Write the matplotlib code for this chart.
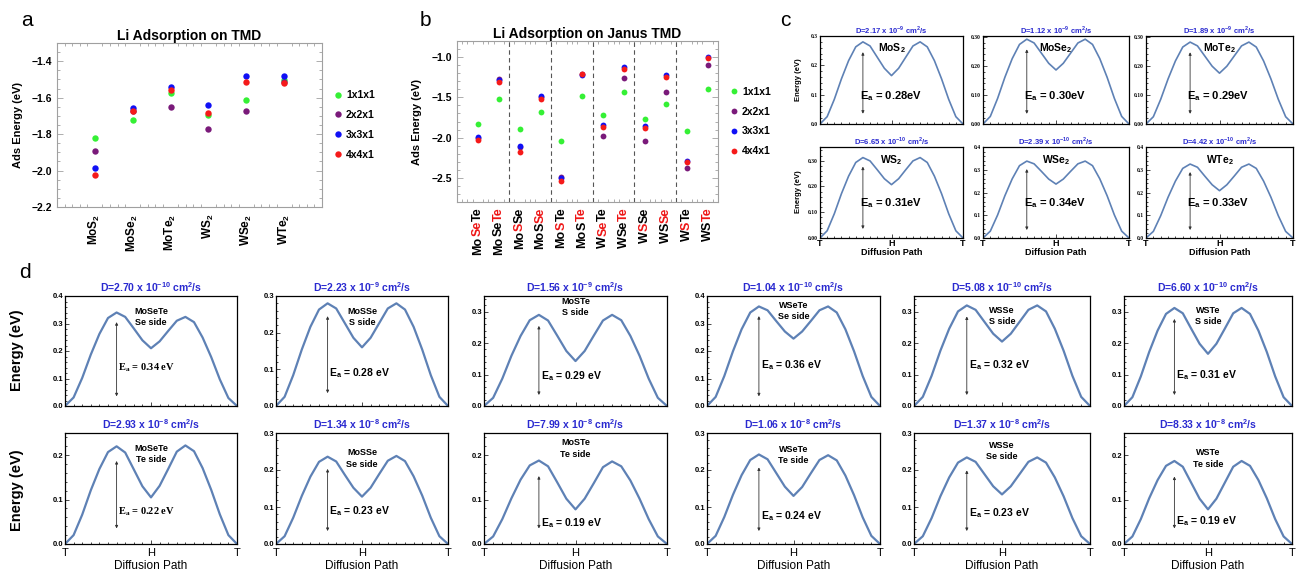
import matplotlib.pyplot as plt
import numpy as np
from matplotlib.ticker import MultipleLocator, FormatStrFormatter
from matplotlib.font_manager import FontProperties

plt.rcParams['font.family'] = ['Liberation Sans', 'DejaVu Sans']

W, H = 1296, 577

# ---------------- (a) Li adsorption energy on TMD (eV)
tmd_names = ['MoS$_{\\mathdefault{2}}$', 'MoSe$_{\\mathdefault{2}}$', 'MoTe$_{\\mathdefault{2}}$',
             'WS$_{\\mathdefault{2}}$', 'WSe$_{\\mathdefault{2}}$', 'WTe$_{\\mathdefault{2}}$']
tmd_1x1 = [-1.821, -1.722, -1.577, -1.696, -1.611, -1.505]
tmd_2x2 = [-1.892, -1.672, -1.651, -1.772, -1.674, -1.512]
tmd_3x3 = [-1.984, -1.655, -1.540, -1.638, -1.479, -1.479]
tmd_4x4 = [-2.023, -1.674, -1.559, -1.685, -1.513, -1.518]

cell_labels = ['1x1x1', '2x2x1', '3x3x1', '4x4x1']
cell_colors = ['#35f035', '#7a1a7a', '#1010f5', '#f51a1a']

# ---------------- (b) Li adsorption energy on Janus TMD (eV)
janus_parts = [('Mo', 'Se', 'Te'), ('Mo', 'Se', 'Te'), ('Mo', 'S', 'Se'), ('Mo', 'S', 'Se'),
               ('Mo', 'S', 'Te'), ('Mo', 'S', 'Te'), ('W', 'Se', 'Te'), ('W', 'Se', 'Te'),
               ('W', 'S', 'Se'), ('W', 'S', 'Se'), ('W', 'S', 'Te'), ('W', 'S', 'Te')]
janus_side = [1, 2] * 6  # element facing the Li atom (red in label)
janus_1x1 = [-1.837, -1.519, -1.894, -1.680, -2.047, -1.478, -1.721, -1.429, -1.767, -1.577, -1.915, -1.396]
janus_2x2 = [-2.010, -1.276, -2.120, -1.490, -2.492, -1.215, -1.977, -1.260, -2.043, -1.433, -2.381, -1.103]
janus_3x3 = [-1.998, -1.285, -2.109, -1.486, -2.500, -1.223, -1.849, -1.124, -1.857, -1.223, -2.286, -0.996]
janus_4x4 = [-2.031, -1.305, -2.179, -1.515, -2.542, -1.210, -1.866, -1.144, -1.886, -1.243, -2.307, -1.008]

# ---------------- (c) diffusion energy profiles T-H-T, TMD (eV)
path = np.linspace(0, 1, 21)
c_mos2 = [0, .025, .084, .154, .216, .263, .280, .266, .228, .190, .165, .190, .228, .266, .280, .263, .216, .154, .084, .025, 0]
c_mose2 = [0, .026, .088, .161, .225, .274, .292, .279, .244, .209, .186, .209, .244, .279, .292, .274, .225, .161, .088, .026, 0]
c_mote2 = [0, .025, .085, .155, .217, .265, .282, .269, .234, .199, .175, .199, .234, .269, .282, .265, .217, .155, .085, .025, 0]
c_ws2 = [0, .028, .094, .172, .240, .293, .312, .299, .265, .230, .207, .230, .265, .299, .312, .293, .240, .172, .094, .028, 0]
c_wse2 = [0, .030, .101, .186, .260, .318, .338, .326, .293, .259, .237, .259, .293, .326, .338, .318, .260, .186, .101, .030, 0]
c_wte2 = [0, .029, .098, .179, .250, .306, .325, .311, .272, .234, .208, .234, .272, .311, .325, .306, .250, .179, .098, .029, 0]
c_names = tmd_names
c_D = ['2.17', '1.12', '1.89', '6.65', '2.39', '4.42']
c_exp = ['-9', '-9', '-9', '-10', '-10', '-10']
c_Ea = ['0.28', '0.30', '0.29', '0.31', '0.34', '0.33']
c_ymax = [0.30, 0.303, 0.303, 0.353, 0.40, 0.40]
c_ydec = ['%.1f', '%.2f', '%.2f', '%.2f', '%.1f', '%.1f']

# ---------------- (d) diffusion energy profiles T-H-T, Janus TMD (eV)
d_mosete_se = [0, .031, .102, .187, .262, .320, .340, .324, .282, .239, .210, .235, .273, .310, .324, .305, .249, .178, .097, .029, 0]
d_mosse_s = [0, .025, .084, .154, .216, .263, .280, .266, .226, .186, .160, .186, .226, .266, .280, .263, .216, .154, .084, .025, 0]
d_moste_s = [0, .026, .087, .160, .223, .273, .290, .272, .224, .175, .143, .175, .224, .272, .290, .273, .223, .160, .087, .026, 0]
d_wsete_se = [0, .033, .109, .199, .279, .340, .362, .348, .309, .271, .245, .271, .309, .348, .362, .340, .279, .199, .109, .033, 0]
d_wsse_s = [0, .029, .096, .176, .246, .301, .320, .306, .268, .230, .205, .230, .268, .306, .320, .301, .246, .176, .096, .029, 0]
d_wste_s = [0, .028, .094, .172, .240, .293, .312, .295, .246, .198, .166, .198, .246, .295, .312, .293, .240, .172, .094, .028, 0]
d_mosete_te = [0, .020, .066, .121, .169, .207, .220, .206, .168, .130, .105, .131, .169, .208, .222, .209, .171, .122, .067, .020, 0]
d_mosse_se = [0, .021, .071, .130, .182, .222, .236, .223, .187, .152, .128, .152, .189, .225, .238, .224, .183, .131, .071, .021, 0]
d_moste_te = [0, .017, .056, .103, .145, .177, .188, .175, .139, .102, .078, .102, .137, .173, .186, .175, .143, .102, .056, .017, 0]
d_wsete_te = [0, .022, .073, .133, .186, .227, .242, .229, .192, .155, .130, .154, .191, .227, .240, .226, .185, .132, .072, .022, 0]
d_wsse_se = [0, .021, .070, .129, .180, .220, .234, .222, .189, .156, .134, .156, .189, .222, .234, .220, .180, .129, .070, .021, 0]
d_wste_te = [0, .017, .056, .103, .144, .176, .187, .174, .138, .102, .078, .102, .138, .174, .187, .176, .144, .103, .056, .017, 0]
d_names = ['MoSeTe\nSe side', 'MoSSe\nS side', 'MoSTe\nS side', 'WSeTe\nSe side', 'WSSe\nS side', 'WSTe\nS side',
           'MoSeTe\nTe side', 'MoSSe\nSe side', 'MoSTe\nTe side', 'WSeTe\nTe side', 'WSSe\nSe side', 'WSTe\nTe side']
d_D = ['2.70', '2.23', '1.56', '1.04', '5.08', '6.60', '2.93', '1.34', '7.99', '1.06', '1.37', '8.33']
d_exp = ['-10', '-9', '-9', '-10', '-10', '-10', '-8', '-8', '-8', '-8', '-8', '-8']
d_Ea = ['0.34', '0.28', '0.29', '0.36', '0.32', '0.31', '0.22', '0.23', '0.19', '0.24', '0.23', '0.19']
d_ymax = [0.40, 0.30, 0.35, 0.40, 0.35, 0.35, 0.25, 0.30, 0.25, 0.30, 0.30, 0.25]

# text placement inside the small panels (axes fractions)
d_name_y = [.81, .81, .90, .86, .82, .82, .81, .77, .86, .80, .84, .77]
d_ea_y = [.35, .30, .27, .37, .375, .28, .29, .30, .19, .25, .28, .21]

LINE = '#5e81b5'
DBLUE = '#2a2ad0'
RED = '#ee1515'


def rect(l, t, r, b):
    return [l / W, 1 - b / H, (r - l) / W, (b - t) / H]


def fxy(x, y):
    return x / W, 1 - y / H


def mexp(e):
    return '$^{\\mathdefault{%s}}$' % e


fig = plt.figure(figsize=(W / 100, H / 100), dpi=100)
renderer = fig.canvas.get_renderer()

for lab, (x, y) in zip('abcd', [(27, 20), (425, 20), (785, 20), (25, 272)]):
    fig.text(*fxy(x, y), lab, fontsize=15, ha='center', va='center')


def frame(ax, color='#a0a0a0'):
    for s in ax.spines.values():
        s.set_color(color)
        s.set_linewidth(0.8)
    ax.tick_params(which='both', direction='in', top=True, right=True, color=color,
                   labelsize=7.5, width=0.6)
    ax.tick_params(which='major', length=4)
    ax.tick_params(which='minor', length=2)
    for t in ax.get_yticklabels():
        t.set_fontweight('bold')


# ---------------- panel a
ax = fig.add_axes(rect(57, 43, 322, 207))
xa = np.arange(1, len(tmd_names) + 1)
for vals, lab, col in zip([tmd_1x1, tmd_2x2, tmd_3x3, tmd_4x4], cell_labels, cell_colors):
    ax.plot(xa, vals, 'o', ms=4.6, mec='none', color=col, label=lab)
ax.set_xlim(0, 7)
ax.set_ylim(-2.2, -1.3)
ax.set_yticks([-2.2, -2.0, -1.8, -1.6, -1.4])
ax.yaxis.set_minor_locator(MultipleLocator(0.05))
ax.xaxis.set_minor_locator(MultipleLocator(0.2))
ax.set_xticks(xa)
frame(ax)
ax.set_xticklabels(tmd_names, rotation=90, fontsize=8.5, fontweight='bold')
ax.tick_params(axis='x', which='major', length=0, pad=5)
ax.set_title('Li Adsorption on TMD', fontsize=10, fontweight='bold', pad=2)
ax.legend(loc='center left', bbox_to_anchor=(1.0, 0.5), frameon=False, handlelength=0.6,
          handletextpad=0.5, labelspacing=0.95, borderaxespad=0.8,
          prop=dict(weight='bold', size=7.5))
fig.text(*fxy(18, 125), 'Ads Energy (eV)', rotation=90, ha='center', va='center',
         fontsize=8, fontweight='bold')

# ---------------- panel b
ax = fig.add_axes(rect(457, 41, 718, 202))
xb = np.arange(1, len(janus_parts) + 1)
for vals, lab, col in zip([janus_1x1, janus_2x2, janus_3x3, janus_4x4], cell_labels, cell_colors):
    ax.plot(xb, vals, 'o', ms=4.2, mec='none', color=col, label=lab)
for xv in xb[1:-1:2] + 0.5:
    ax.axvline(xv, color='#555555', ls=(0, (4, 3)), lw=0.8)
ax.set_xlim(0, 12.5)
ax.set_ylim(-2.8, -0.8)
ax.set_yticks([-2.5, -2.0, -1.5, -1.0])
ax.yaxis.set_minor_locator(MultipleLocator(0.1))
ax.xaxis.set_minor_locator(MultipleLocator(0.25))
ax.set_xticks(xb)
frame(ax)
ax.set_xticklabels([])
ax.tick_params(axis='x', which='major', length=0)
ax.set_title('Li Adsorption on Janus TMD', fontsize=10, fontweight='bold', pad=2)
ax.legend(loc='center left', bbox_to_anchor=(1.0, 0.5), frameon=False, handlelength=0.6,
          handletextpad=0.5, labelspacing=0.95, borderaxespad=0.8,
          prop=dict(weight='bold', size=7.5))
fig.text(*fxy(417, 122), 'Ads Energy (eV)', rotation=90, ha='center', va='center',
         fontsize=8, fontweight='bold')

# two-colour rotated labels: each piece placed where it sits in the whole word
lab_prop = FontProperties(family=['Liberation Sans', 'DejaVu Sans'], weight='bold', size=9)


def text_width_pt(s):
    w = renderer.get_text_width_height_descent(s, lab_prop, ismath=False)[0]
    return w * 72 / fig.dpi


for xi, parts, red in zip(xb, janus_parts, janus_side):
    word = ''.join(parts)
    bottom = -4 - text_width_pt(word)
    for k, piece in enumerate(parts):
        prefix = ''.join(parts[:k + 1])
        start = text_width_pt(prefix) - text_width_pt(piece)
        ax.annotate(piece, xy=(xi, 0), xycoords=('data', 'axes fraction'),
                    xytext=(0, bottom + start), textcoords='offset points',
                    rotation=90, ha='center', va='bottom', fontproperties=lab_prop,
                    color=RED if k == red else 'black', annotation_clip=False)


# ---------------- profile panels
def profile(ax, y, ymax, fmt, lw, tick_font, tick_size):
    ax.plot(path, y, color=LINE, lw=lw, solid_joinstyle='round')
    ax.set_xlim(0, 1)
    ax.set_ylim(0, ymax)
    ax.set_yticks(np.arange(0, ymax + 1e-6, 0.1))
    ax.yaxis.set_major_formatter(FormatStrFormatter(fmt))
    ax.yaxis.set_minor_locator(MultipleLocator(0.02))
    ax.set_xticks([0, 0.5, 1])
    ax.xaxis.set_minor_locator(MultipleLocator(0.05))
    for s in ax.spines.values():
        s.set_linewidth(0.9)
    ax.tick_params(which='both', direction='in', width=0.5)
    ax.tick_params(which='major', length=3)
    ax.tick_params(which='minor', length=1.5)
    ax.tick_params(axis='y', labelsize=tick_size, pad=1.5)
    for t in ax.get_yticklabels():
        t.set_fontfamily(tick_font)
        t.set_fontweight('bold')
    top = max(y)
    ax.annotate('', xy=(0.3, top - 0.035), xytext=(0.3, 0.035),
                arrowprops=dict(arrowstyle='<|-|>', lw=0.6, color='#333333',
                                mutation_scale=4, shrinkA=0, shrinkB=0))


c_curves = [c_mos2, c_mose2, c_mote2, c_ws2, c_wse2, c_wte2]
c_cols = [(820, 963), (983, 1129), (1146, 1293)]
c_rows = [(36, 124), (147, 238)]
for i, y in enumerate(c_curves):
    r, k = divmod(i, 3)
    ax = fig.add_axes(rect(c_cols[k][0], c_rows[r][0], c_cols[k][1], c_rows[r][1]))
    profile(ax, y, c_ymax[i], c_ydec[i], 1.2, 'Liberation Serif', 4)
    ax.set_title('D=%s x 10%s cm%s/s' % (c_D[i], mexp(c_exp[i]), mexp('2')), color=DBLUE,
                 fontsize=5.5, fontweight='bold', pad=2)
    ax.text(0.5, 0.86, c_names[i], transform=ax.transAxes, ha='center', va='center',
            fontsize=7.5, fontweight='bold')
    ax.text(0.28, 0.32 if r == 0 else 0.38, 'E$_{\\mathdefault{a}}$ = %seV' % c_Ea[i],
            transform=ax.transAxes, ha='left', va='center', fontsize=8, fontweight='bold')
    if r == 1:
        ax.set_xticklabels(['T', 'H', 'T'], fontsize=6.5, fontweight='bold')
        ax.tick_params(axis='x', pad=1)
        ax.set_xlabel('Diffusion Path', fontsize=6.5, fontweight='bold', labelpad=0)
    else:
        ax.set_xticklabels([])
for yc in [80, 192]:
    fig.text(*fxy(798, yc), 'Energy (eV)', rotation=90, ha='center', va='center',
             fontsize=5.5, fontweight='bold')

d_curves = [d_mosete_se, d_mosse_s, d_moste_s, d_wsete_se, d_wsse_s, d_wste_s,
            d_mosete_te, d_mosse_se, d_moste_te, d_wsete_te, d_wsse_se, d_wste_te]
d_cols = [(65, 237), (276, 448), (484, 667), (707, 880), (914, 1090), (1124, 1292)]
d_rows = [(296, 406), (433, 544)]
for i, y in enumerate(d_curves):
    r, k = divmod(i, 6)
    ax = fig.add_axes(rect(d_cols[k][0], d_rows[r][0], d_cols[k][1], d_rows[r][1]))
    profile(ax, y, d_ymax[i], '%.1f', 1.6, 'Liberation Sans', 5.5)
    ax.set_title('D=%s x 10%s cm%s/s' % (d_D[i], mexp(d_exp[i]), mexp('2')), color=DBLUE,
                 fontsize=7.5, fontweight='bold', pad=3)
    ax.text(0.5, d_name_y[i], d_names[i], transform=ax.transAxes, ha='center', va='center',
            fontsize=6.5, fontweight='bold', linespacing=1.3)
    ea_font = 'Liberation Serif' if k == 0 else 'Liberation Sans'
    ax.text(0.31, d_ea_y[i], 'E$_{\\mathdefault{a}}$ = %s eV' % d_Ea[i], transform=ax.transAxes,
            ha='left', va='center', fontsize=7.5, fontweight='bold', family=ea_font)
    if r == 1:
        ax.set_xticklabels(['T', 'H', 'T'], fontsize=8)
        ax.tick_params(axis='x', pad=3)
        ax.set_xlabel('Diffusion Path', fontsize=8.5, labelpad=1)
    else:
        ax.set_xticklabels([])
for yc in [350, 490]:
    fig.text(*fxy(17, yc), 'Energy (eV)', rotation=90, ha='center', va='center',
             fontsize=10.5, fontweight='bold')

fig.savefig('out.png', dpi=100)
